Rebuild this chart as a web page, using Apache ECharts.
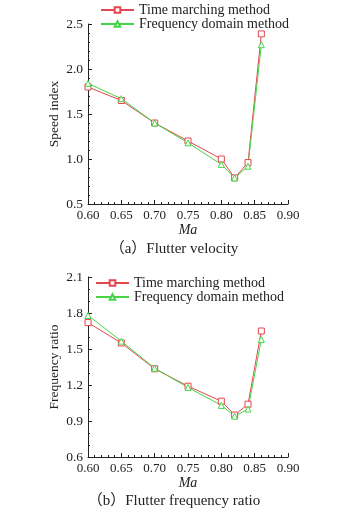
<!DOCTYPE html>
<html>
<head>
<meta charset="utf-8">
<script src="https://cdn.jsdelivr.net/npm/echarts@6/dist/echarts.min.js"></script>
<style>
  html, body { margin: 0; padding: 0; background: #fff; }
  #main { width: 348px; height: 513px; }
</style>
</head>
<body>
<div id="main"></div>
<script>
// Mach numbers
const ma = [0.60, 0.65, 0.70, 0.75, 0.80, 0.82, 0.84, 0.86];
// (a) speed index
const speedTime = [1.80, 1.65, 1.40, 1.20, 1.00, 0.79, 0.96, 2.39];
const speedFreq = [1.84, 1.67, 1.40, 1.18, 0.94, 0.79, 0.92, 2.27];
// (b) frequency ratio
const ratioTime = [1.72, 1.55, 1.335, 1.19, 1.065, 0.95, 1.04, 1.65];
const ratioFreq = [1.78, 1.565, 1.34, 1.18, 1.03, 0.94, 1.00, 1.58];

const seriesNames = ['Time marching method', 'Frequency domain method'];
const captions = ['（a）Flutter velocity', '（b）Flutter frequency ratio'];

const red = '#e3474f';
const green = '#46d446';
const font = "'Liberation Serif', 'Noto Sans CJK SC', serif";

function pairs(xs, ys) {
  return xs.map((x, i) => [x, ys[i]]);
}

function xAxis(idx, gap) {
  return {
    type: 'value', gridIndex: idx,
    min: 0.6, max: 0.9, interval: 0.05,
    name: 'Ma', nameLocation: 'middle', nameGap: gap,
    nameTextStyle: { fontFamily: font, fontSize: 14, fontStyle: 'italic', color: '#222' },
    axisLine: { lineStyle: { color: '#222', width: 1 } },
    axisTick: { inside: true, length: 4, lineStyle: { color: '#222' } },
    minorTick: { show: true, splitNumber: 5, length: 2, lineStyle: { color: '#222' } },
    splitLine: { show: false },
    axisLabel: { fontFamily: font, fontSize: 13, color: '#222', margin: 5,
      formatter: v => v.toFixed(2) }
  };
}

function yAxis(idx, name, min, max, step, minor) {
  return {
    type: 'value', gridIndex: idx,
    min: min, max: max, interval: step,
    name: name, nameLocation: 'middle', nameGap: 27, nameMoveOverlap: false,
    nameTextStyle: { fontFamily: font, fontSize: 13.5, color: '#222' },
    axisLine: { show: true, lineStyle: { color: '#222', width: 1 } },
    axisTick: { inside: true, length: 4, lineStyle: { color: '#222' } },
    minorTick: { show: true, splitNumber: minor, length: 2, lineStyle: { color: '#222' } },
    splitLine: { show: false },
    axisLabel: { fontFamily: font, fontSize: 13.5, color: '#222', margin: 5,
      formatter: v => v.toFixed(1) }
  };
}

function line(idx, name, data, color, symbol) {
  return {
    type: 'line', name: name, xAxisIndex: idx, yAxisIndex: idx,
    data: data, color: color,
    symbol: symbol, symbolSize: 6,
    itemStyle: { color: '#fff', borderColor: color, borderWidth: 1 },
    lineStyle: { color: color, width: 1 },
    emphasis: { disabled: true },
    animation: false
  };
}

function legend(left, top) {
  return {
    left: left, top: top, orient: 'vertical', padding: 0,
    itemWidth: 33, itemHeight: 7, itemGap: 0,
    data: seriesNames,
    textStyle: { fontFamily: font, fontSize: 14, color: '#222', lineHeight: 13 },
    selectedMode: false
  };
}

const chart = echarts.init(document.getElementById('main'), null, { renderer: 'canvas' });
chart.setOption({
  backgroundColor: '#fff',
  animation: false,
  grid: [
    { left: 88, top: 24, width: 200, height: 180 },
    { left: 88, top: 277, width: 200, height: 180 }
  ],
  xAxis: [xAxis(0, 13), xAxis(1, 14)],
  yAxis: [
    yAxis(0, 'Speed index', 0.5, 2.5, 0.5, 5),
    yAxis(1, 'Frequency ratio', 0.6, 2.1, 0.3, 3)
  ],
  legend: [legend(100, 3), legend(95, 276)],
  series: [
    line(0, seriesNames[0], pairs(ma, speedTime), red, 'rect'),
    line(0, seriesNames[1], pairs(ma, speedFreq), green, 'triangle'),
    line(1, seriesNames[0], pairs(ma, ratioTime), red, 'rect'),
    line(1, seriesNames[1], pairs(ma, ratioFreq), green, 'triangle')
  ],
  graphic: [
    { type: 'text', left: 'center', top: 242, style: { text: captions[0], font: '15px ' + font, fill: '#222' } },
    { type: 'text', left: 'center', top: 494, style: { text: captions[1], font: '15px ' + font, fill: '#222' } }
  ]
});
</script>
</body>
</html>
